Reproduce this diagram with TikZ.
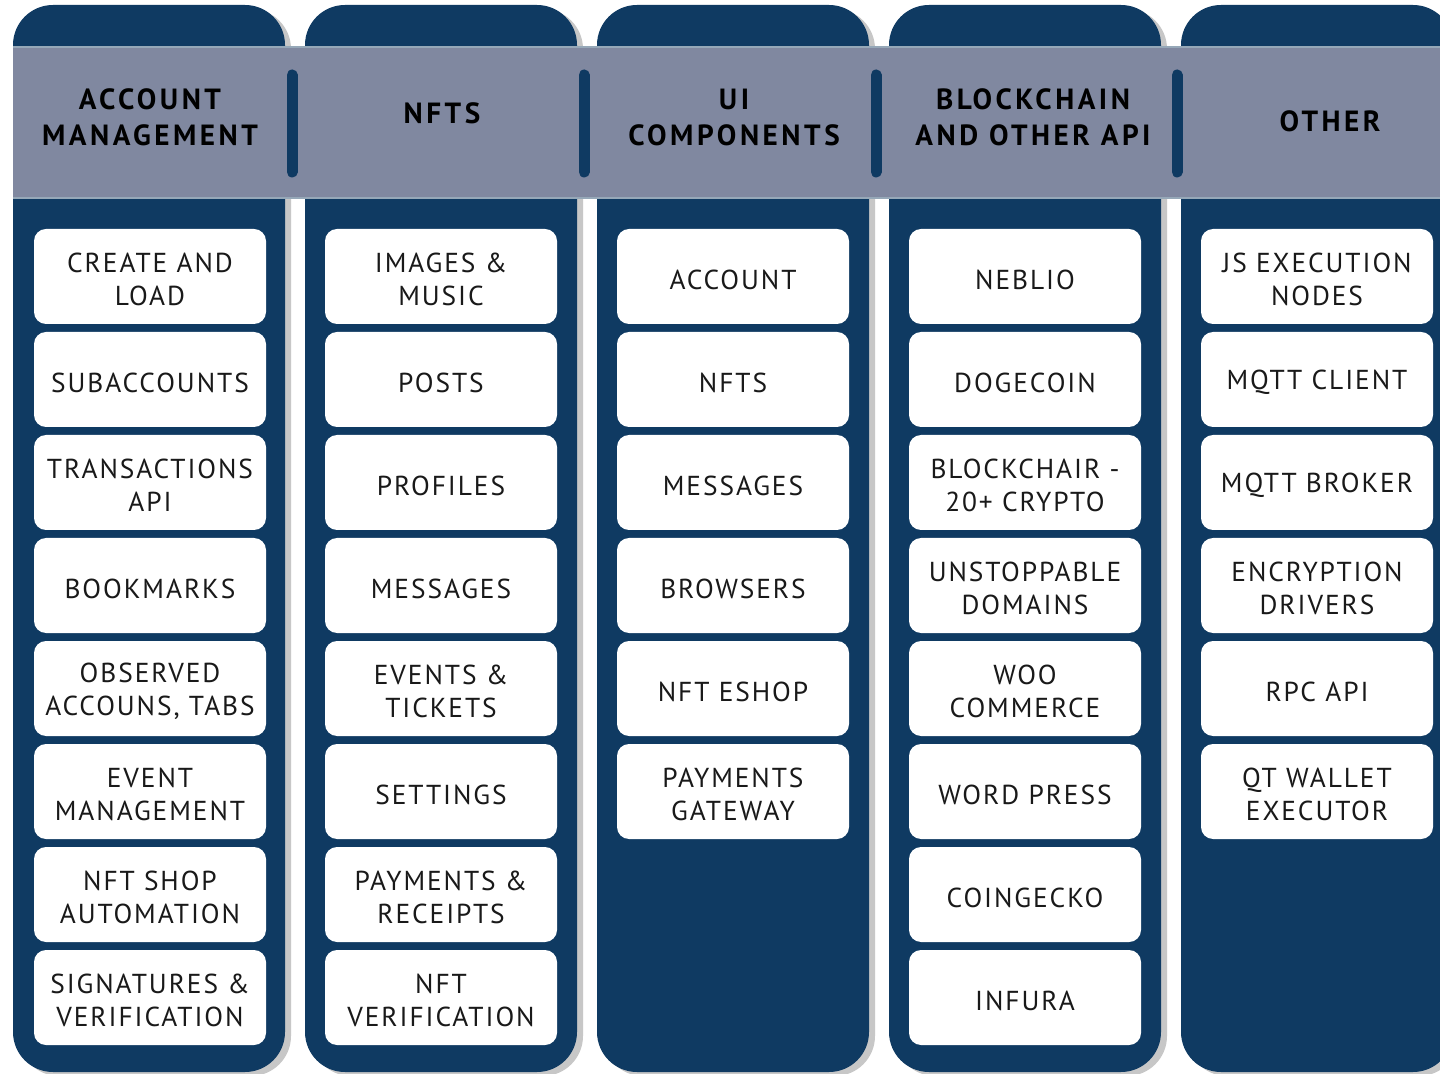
\documentclass[tikz,border=0pt]{standalone}
\usepackage{fontspec}
\setmainfont{PT Sans}
\newfontfamily\boxfont[LetterSpace=7]{PT Sans}
\newfontfamily\headfont[LetterSpace=12]{PT Sans}
\definecolor{colnavy}{RGB}{15,58,98}
\definecolor{colband}{RGB}{128,136,160}
\definecolor{colbandedge}{RGB}{150,168,184}
\tikzset{
  column/.style={fill=colnavy, rounded corners=20pt},
  shade col/.style={fill=black!22, rounded corners=20pt},
  item/.style={fill=white, rounded corners=6pt, minimum width=116pt,
    minimum height=47.5pt, inner sep=0pt},
  itemtext/.style={align=center, text=black!90, inner sep=0pt,
    font=\boxfont\fontsize{13.7}{16.5}\selectfont},
  head/.style={align=center, text=black,
    font=\headfont\bfseries\fontsize{14.6}{18}\selectfont},
  divider/.style={draw=colnavy, line width=5.5pt, line cap=round}
}
\begin{document}
\begin{tikzpicture}[x=0.5pt, y=-0.5pt]
  \useasboundingbox (0,0) rectangle (1440,1074);
  \fill[white] (0,0) rectangle (1440,1074);
  \clip (0,0) rectangle (1440,1074);
  % columns
  \foreach \k in {0,...,4} {
    \fill[shade col] ({19+292*\k},9) rectangle ({291+292*\k},1076);
    \fill[column] ({13+292*\k},5) rectangle ({285+292*\k},1072);
  }
  % header band
  \fill[colband] (13,47) rectangle (1440,198);
  \draw[colbandedge, line width=1pt] (13,47) -- (1440,47);
  \draw[colbandedge, line width=1pt] (13,198) -- (1440,198);
  \foreach \x in {292,584,876,1177}
    \draw[divider] (\x,75) -- (\x,172);
  \node[head] (hdr1) at (150,117) {ACCOUNT\\MANAGEMENT};
  \node[head] (hdr2) at (442,113) {NFTS};
  \node[head] (hdr3) at (734,117) {UI\\COMPONENTS};
  \node[head] (hdr4) at (1033,117) {BLOCKCHAIN\\AND OTHER API};
  \node[head] (hdr5) at (1330,121) {OTHER};
  % account management
  \foreach \t [count=\i] in {CREATE AND\\LOAD, SUBACCOUNTS, TRANSACTIONS\\API,
      BOOKMARKS, {OBSERVED\\ACCOUNS, TABS}, EVENT\\MANAGEMENT,
      NFT SHOP\\AUTOMATION, SIGNATURES \&\\VERIFICATION} {
    \node[item] (acc\i) at (150,{276.5+103*(\i-1)}) {};
    \node[itemtext] (acc\i-t) at ([yshift=-1.5pt]acc\i.center) {\t};
  }
  % nfts
  \foreach \t [count=\i] in {IMAGES \&\\MUSIC, POSTS, PROFILES, MESSAGES,
      EVENTS \&\\TICKETS, SETTINGS, PAYMENTS \&\\RECEIPTS, NFT\\VERIFICATION} {
    \node[item] (nft\i) at (441,{276.5+103*(\i-1)}) {};
    \node[itemtext] (nft\i-t) at ([yshift=-1.5pt]nft\i.center) {\t};
  }
  % ui components
  \foreach \t [count=\i] in {ACCOUNT, NFTS, MESSAGES, BROWSERS, NFT ESHOP,
      PAYMENTS\\GATEWAY} {
    \node[item] (ui\i) at (733,{276.5+103*(\i-1)}) {};
    \node[itemtext] (ui\i-t) at ([yshift=-1.5pt]ui\i.center) {\t};
  }
  % blockchain and other api
  \foreach \t [count=\i] in {NEBLIO, DOGECOIN, BLOCKCHAIR -\\20+ CRYPTO,
      UNSTOPPABLE\\DOMAINS, WOO\\COMMERCE, WORD PRESS, COINGECKO, INFURA} {
    \node[item] (api\i) at (1025,{276.5+103*(\i-1)}) {};
    \node[itemtext] (api\i-t) at ([yshift=-1.5pt]api\i.center) {\t};
  }
  % other
  \foreach \t [count=\i] in {JS EXECUTION\\NODES, MQTT CLIENT, MQTT BROKER,
      ENCRYPTION\\DRIVERS, RPC API, QT WALLET\\EXECUTOR} {
    \node[item] (oth\i) at (1317,{276.5+103*(\i-1)}) {};
    \node[itemtext] (oth\i-t) at ([yshift=-1.5pt]oth\i.center) {\t};
  }
\end{tikzpicture}
\end{document}
